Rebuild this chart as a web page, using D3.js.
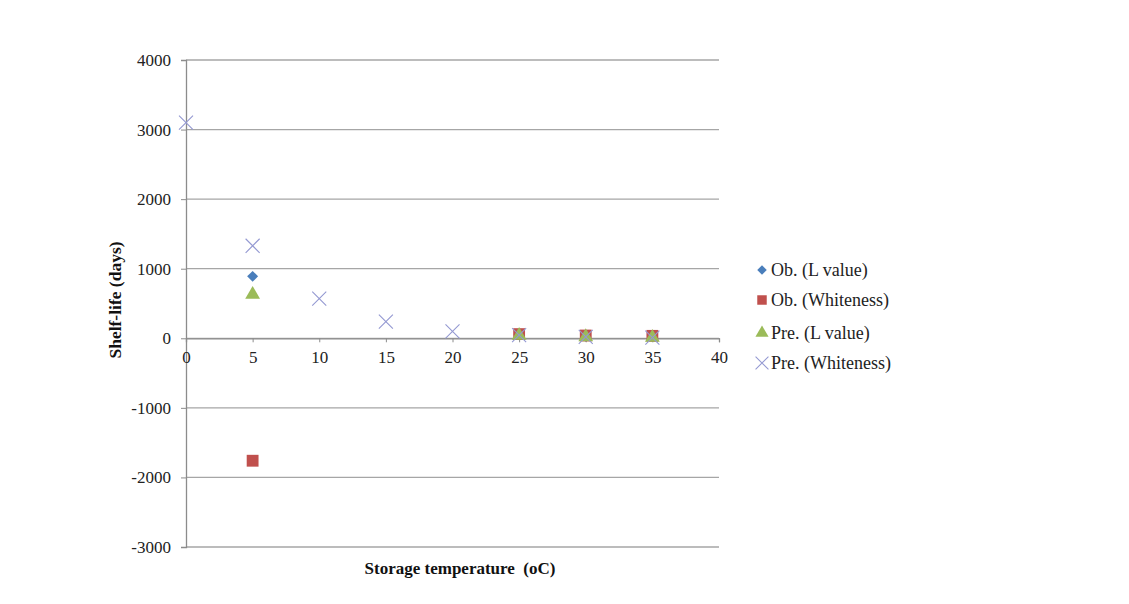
<!DOCTYPE html>
<html><head><meta charset="utf-8">
<script src="https://cdn.jsdelivr.net/npm/d3@7"></script>
<style>body{margin:0;background:#fff}svg text{font-family:"Liberation Serif","Times New Roman",serif;white-space:pre}</style>
</head><body><svg id="c" width="1129" height="604"></svg>
<script>
const xTicks = [0,5,10,15,20,25,30,35,40];
const yTicks = [-3000,-2000,-1000,0,1000,2000,3000,4000];
const seriesNames = ["Ob. (L value)","Ob. (Whiteness)","Pre. (L value)","Pre. (Whiteness)"];
const obLTemp = [5,25,30,35];
const obLVal = [890,50,30,20];
const obWTemp = [5,25,30,35];
const obWVal = [-1760,60,40,35];
const preLTemp = [5,25,30,35];
const preLVal = [630,40,20,10];
const preWTemp = [0,5,10,15,20,25,30,35];
const preWVal = [3100,1330,570,240,100,45,20,10];

const svg = d3.select("#c");
const x = d3.scaleLinear().domain([0,40]).range([186,719]);
const y = d3.scaleLinear().domain([-3000,4000]).range([547,60]);
const fmt = d => String(d);

// gridlines
svg.append("g").selectAll("line").data(yTicks).join("line")
  .attr("x1",x(0)).attr("x2",x(40)).attr("y1",d=>y(d)).attr("y2",d=>y(d))
  .attr("stroke","#a6a6a6").attr("stroke-width",1.3);

// y axis
const yAx = svg.append("g").attr("transform",`translate(${x(0)},0)`)
  .call(d3.axisLeft(y).tickValues(yTicks).tickSize(5).tickPadding(10).tickFormat(fmt));
yAx.select(".domain").attr("stroke","#8c8c8c").attr("stroke-width",1.3);
yAx.selectAll(".tick line").attr("stroke","#8c8c8c");
yAx.selectAll("text").attr("font-size",17).attr("fill","#222").attr("font-family","Liberation Serif");

// x axis at y=0
const xAx = svg.append("g").attr("transform",`translate(0,${y(0)})`)
  .call(d3.axisBottom(x).tickValues(xTicks).tickSize(4).tickPadding(9).tickFormat(fmt));
xAx.select(".domain").attr("stroke","#8c8c8c").attr("stroke-width",1.3);
xAx.selectAll(".tick line").attr("stroke","#8c8c8c");
xAx.selectAll("text").attr("font-size",17).attr("fill","#222").attr("font-family","Liberation Serif");

const colors = ["#4a7ebb","#c0504d","#9bbb59","#9499d2"];
const diamond = { draw(ctx, size){ const r = Math.sqrt(size/2); ctx.moveTo(0,-r); ctx.lineTo(r,0); ctx.lineTo(0,r); ctx.lineTo(-r,0); ctx.closePath(); } };
const symbols = [diamond, d3.symbolSquare, d3.symbolTriangle, d3.symbolX];
const sizes = [60, 140, 95, 130];
const series = [
  obLTemp.map((t,i)=>[t,obLVal[i]]),
  obWTemp.map((t,i)=>[t,obWVal[i]]),
  preLTemp.map((t,i)=>[t,preLVal[i]]),
  preWTemp.map((t,i)=>[t,preWVal[i]])
];
series.forEach((pts,si)=>{
  const g = svg.append("g");
  g.selectAll("path").data(pts).join("path")
    .attr("transform",d=>`translate(${x(d[0])},${y(d[1])})`)
    .attr("d",d3.symbol().type(symbols[si]).size(sizes[si]))
    .attr("fill",si===3?"none":colors[si])
    .attr("stroke",si===3?colors[si]:"none")
    .attr("stroke-width",1.1);
});

// legend
const lg = svg.append("g");
const ly = [270,300,333,363];
const lsizes = [45, 90, 75, 110];
seriesNames.forEach((n,i)=>{
  lg.append("path").attr("transform",`translate(762,${ly[i]})`)
    .attr("d",d3.symbol().type(symbols[i]).size(lsizes[i]))
    .attr("fill",i===3?"none":colors[i]).attr("stroke",i===3?colors[i]:"none").attr("stroke-width",1.1);
  lg.append("text").attr("x",771).attr("y",ly[i]+6).attr("font-size",18).attr("fill","#222").text(n);
});

// axis titles
svg.append("text").attr("x",460).attr("y",574).attr("text-anchor","middle")
  .attr("font-size",17).attr("font-weight","bold").attr("fill","#111").text("Storage temperature  (oC)");
svg.append("text").attr("transform","translate(121,300) rotate(-90)").attr("text-anchor","middle")
  .attr("font-size",17.5).attr("font-weight","bold").attr("fill","#111").text("Shelf-life (days)");
</script></body></html>
